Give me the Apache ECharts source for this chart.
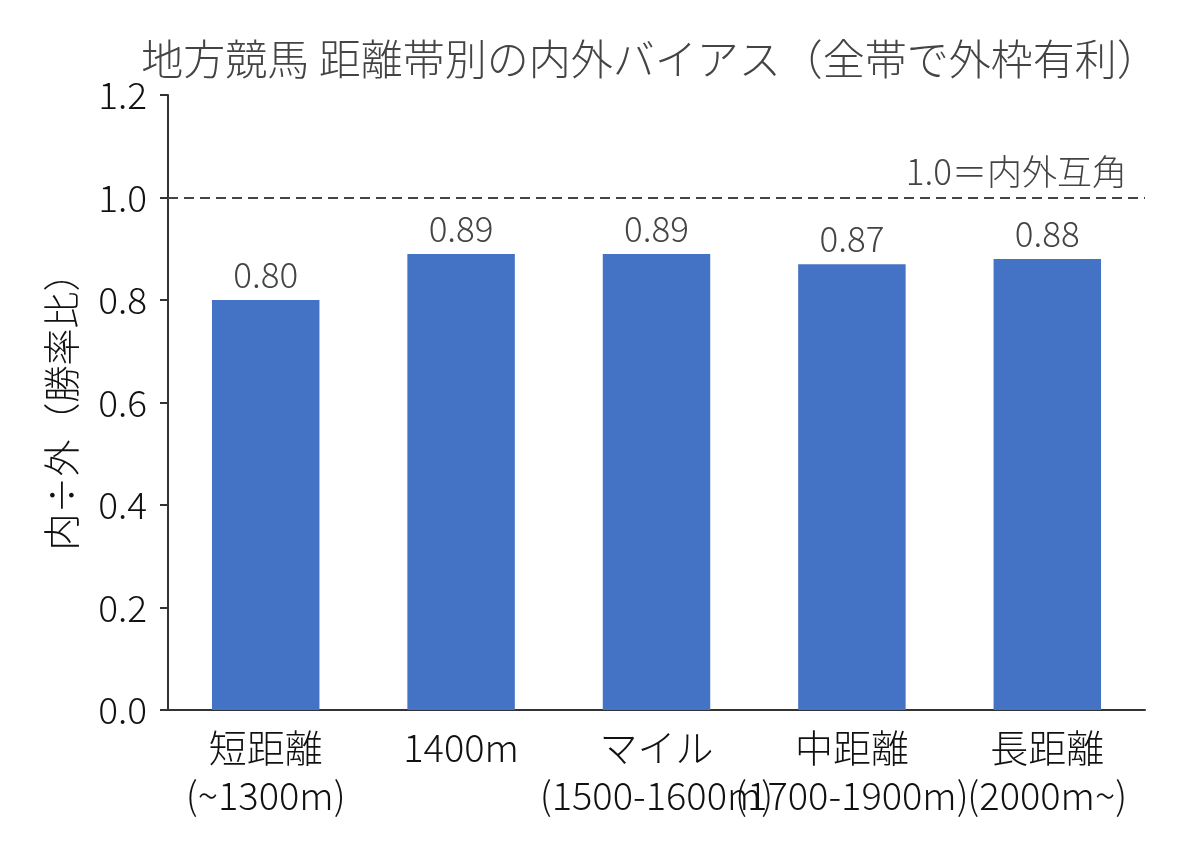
<!DOCTYPE html>
<html>
<head>
<meta charset="utf-8">
<script src="https://cdn.jsdelivr.net/npm/echarts@6/dist/echarts.min.js"></script>
<style>
  html, body { margin: 0; padding: 0; background: #fff; }
  #chart { width: 1188px; height: 858px; }
</style>
</head>
<body>
<div id="chart"></div>
<script>
// Distance bands and inner/outer win-rate ratio
const categories = ['短距離\n(~1300m)', '1400m', 'マイル\n(1500-1600m)', '中距離\n(1700-1900m)', '長距離\n(2000m~)']
const ratios = [0.80, 0.89, 0.89, 0.87, 0.88]
const yTicks = { min: 0, max: 1.2, interval: 0.2 }
const evenLine = 1.0

const FONT = '"Noto Sans CJK JP", "Noto Sans", sans-serif'
const WEIGHT = 300

const chart = echarts.init(document.getElementById('chart'))

const options = {
    animation: false,
    backgroundColor: '#ffffff',
    textStyle: { fontFamily: FONT, fontWeight: WEIGHT },
    title: {
        text: '地方競馬 距離帯別の内外バイアス（全帯で外枠有利）',
        left: 645,
        top: 33,
        textAlign: 'center',
        textStyle: { fontFamily: FONT, fontSize: 42, fontWeight: WEIGHT, color: '#444444' }
    },
    grid: { left: 168, right: 43, top: 95, bottom: 148, containLabel: false },
    xAxis: {
        type: 'category',
        data: categories,
        axisLine: { lineStyle: { color: '#333333', width: 2 } },
        axisTick: { alignWithLabel: true, length: 8, lineStyle: { color: '#333333', width: 2 } },
        axisLabel: {
            interval: 0,
            margin: 14,
            fontFamily: FONT,
            fontWeight: WEIGHT,
            fontSize: 38,
            lineHeight: 48,
            color: '#111111'
        }
    },
    yAxis: {
        type: 'value',
        min: yTicks.min,
        max: yTicks.max,
        interval: yTicks.interval,
        name: '内÷外（勝率比）',
        nameLocation: 'middle',
        nameGap: 88,
        nameRotate: 90,
        nameTextStyle: { fontFamily: FONT, fontWeight: WEIGHT, fontSize: 37, color: '#111111' },
        axisLine: { show: true, lineStyle: { color: '#333333', width: 2 } },
        axisTick: { show: true, length: 8, lineStyle: { color: '#333333', width: 2 } },
        splitLine: { show: false },
        axisLabel: {
            margin: 21,
            fontFamily: FONT,
            fontWeight: WEIGHT,
            fontSize: 37,
            color: '#111111',
            formatter: v => v.toFixed(1)
        }
    },
    series: [{
        name: '内÷外',
        type: 'bar',
        data: ratios,
        barWidth: '55%',
        itemStyle: { color: '#4472C4' },
        label: {
            show: true,
            position: 'top',
            distance: 8,
            fontFamily: FONT,
            fontWeight: WEIGHT,
            fontSize: 35,
            color: '#444444',
            formatter: p => p.value.toFixed(2)
        },
        markLine: {
            silent: true,
            symbol: 'none',
            data: [{ yAxis: evenLine }],
            lineStyle: { color: '#444444', type: [10, 6], width: 2 },
            label: {
                show: true,
                position: 'insideEndTop',
                formatter: '1.0＝内外互角',
                fontFamily: FONT,
                fontWeight: WEIGHT,
                fontSize: 35,
                color: '#444444',
                distance: [18, 8]
            }
        }
    }]
}

chart.setOption(options)
</script>
</body>
</html>
